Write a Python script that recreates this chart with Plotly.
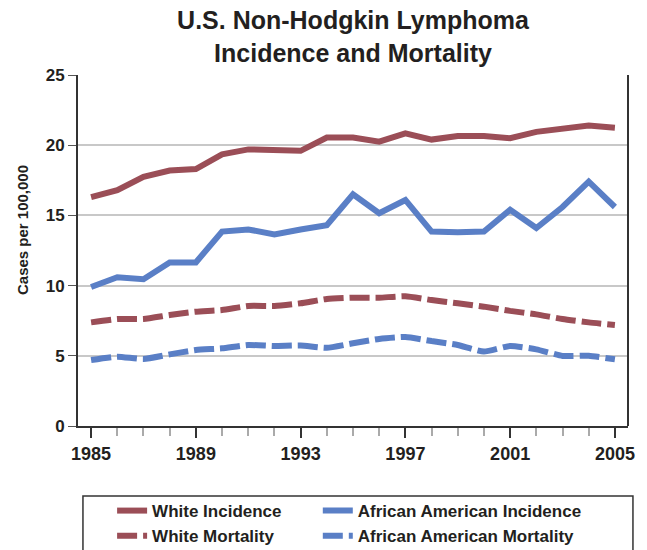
import plotly.graph_objects as go

years = list(range(1985, 2006))
white_incidence = [16.3, 16.8, 17.75, 18.2, 18.3, 19.35, 19.7, 19.6, 19.6, 20.55, 20.55,
                   20.25, 20.85, 20.4, 20.65, 20.65, 20.5, 20.95, 21.2, 21.4, 21.25]
aa_incidence = [9.9, 10.6, 10.45, 11.65, 11.65, 13.85, 14.0, 13.65, 14.0, 14.3, 16.5,
                15.15, 16.1, 13.85, 13.8, 13.85, 15.4, 14.1, 15.6, 17.4, 15.6]
white_mortality = [7.38, 7.62, 7.62, 7.9, 8.14, 8.26, 8.55, 8.55, 8.74, 9.05, 9.14,
                   9.14, 9.24, 8.97, 8.74, 8.5, 8.2, 7.95, 7.62, 7.38, 7.19]
aa_mortality = [4.7, 4.94, 4.77, 5.1, 5.41, 5.53, 5.77, 5.7, 5.74, 5.57, 5.89,
                6.2, 6.34, 6.05, 5.77, 5.3, 5.7, 5.46, 4.99, 5.0, 4.75]
tick_years = [1985, 1989, 1993, 1997, 2001, 2005]
y_ticks = [0, 5, 10, 15, 20, 25]

RED = "#9B4E57"
BLUE = "#5A7FC6"
TXT = "#231F20"
FONT = "Liberation Sans"
DASH = "20px,6px"

fig = go.Figure()
fig.add_trace(go.Scatter(x=years, y=white_incidence, mode="lines", name="White Incidence",
                         line=dict(color=RED, width=6), legend="legend"))
fig.add_trace(go.Scatter(x=years, y=white_mortality, mode="lines", name="White Mortality",
                         line=dict(color=RED, width=6, dash=DASH, shape="spline", smoothing=0.5),
                         legend="legend"))
fig.add_trace(go.Scatter(x=years, y=aa_incidence, mode="lines", name="African American Incidence",
                         line=dict(color=BLUE, width=6), legend="legend2"))
fig.add_trace(go.Scatter(x=years, y=aa_mortality, mode="lines", name="African American Mortality",
                         line=dict(color=BLUE, width=6, dash=DASH, shape="spline", smoothing=0.5),
                         legend="legend2"))

legend_common = dict(orientation="v", xref="paper", xanchor="left", yref="paper",
                     y=-0.191, yanchor="top", bgcolor="rgba(0,0,0,0)", borderwidth=0,
                     font=dict(size=17, family=FONT, color=TXT, weight="bold"),
                     traceorder="normal", tracegroupgap=0)

fig.update_layout(
    width=639, height=542,
    margin=dict(l=70, r=19, t=67, b=124, autoexpand=False),
    plot_bgcolor="white", paper_bgcolor="white",
    font=dict(family=FONT, color=TXT, weight="bold"),
    title=dict(text="U.S. Non-Hodgkin Lymphoma<br>Incidence and Mortality",
               x=0.5, xref="paper", xanchor="center", yref="container", y=0.961, yanchor="middle",
               font=dict(size=25, family=FONT, color=TXT, weight="bold")),
    showlegend=True,
    legend=dict(x=0.062, **legend_common),
    legend2=dict(x=0.436, **legend_common),
)
fig.update_xaxes(range=[1984.5, 2005.5], tickvals=tick_years, ticktext=[str(t) for t in tick_years],
                 ticks="outside", ticklen=10, tickwidth=1.5, tickcolor="#333333",
                 minor=dict(dtick=1, tick0=1985, ticks="outside", ticklen=8, tickcolor="#AAAAAA", tickwidth=1.5),
                 showline=True, linecolor="#333333", linewidth=2, showgrid=False, zeroline=False,
                 tickfont=dict(size=18, family=FONT, color=TXT, weight="bold"))
fig.update_yaxes(range=[0, 25], tickvals=y_ticks, ticks="outside", ticklen=8, tickcolor="#555555",
                 showline=True, linecolor="#333333", linewidth=2, showgrid=True, gridcolor="#C8C8C8",
                 gridwidth=1.5, zeroline=False,
                 tickfont=dict(size=17, family=FONT, color=TXT, weight="bold"))
fig.add_annotation(text="Cases per 100,000", xref="paper", yref="paper", x=-0.102, y=0.558,
                   xanchor="center", yanchor="middle", textangle=-90, showarrow=False,
                   font=dict(size=15, family=FONT, color=TXT, weight="bold"))
# right border of plot area
fig.add_shape(type="line", xref="paper", yref="paper", x0=1, x1=1, y0=0, y1=1,
              line=dict(color="#333333", width=2))
# legend frame enclosing both legend columns
fig.add_shape(type="rect", xref="paper", yref="paper", x0=0.009, x1=1.009, y0=-0.45, y1=-0.1994,
              line=dict(color="#333333", width=1.5), fillcolor="rgba(0,0,0,0)")

fig.write_html("out.html")
